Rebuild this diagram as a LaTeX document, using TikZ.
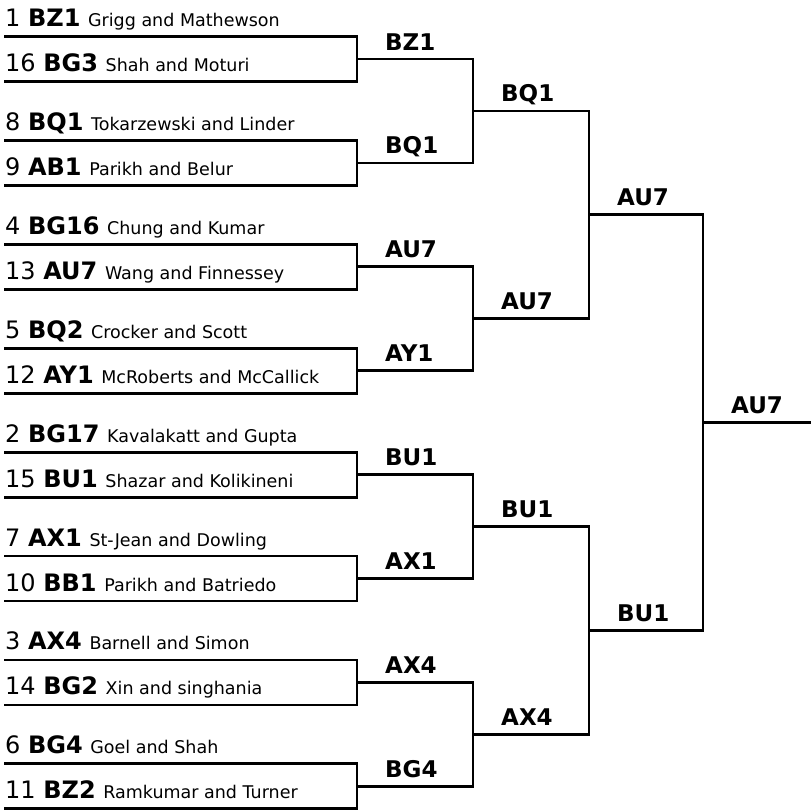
\documentclass[tikz,border=0pt]{standalone}
\usepackage{fontspec}
\setmainfont{DejaVu Sans}
\usepackage{tikz}
\usetikzlibrary{calc,positioning}

\newcommand{\codefont}{\fontsize{24}{28}\selectfont}
\newcommand{\namefont}{\fontsize{17.5}{21}\selectfont}
\newcommand{\winfont}{\fontsize{23}{27}\selectfont}

\tikzset{
  bracket/.style={line width=2.8pt, line cap=rect},
  seed/.style={anchor=base west, inner sep=0pt, yshift=10pt, font=\codefont},
  winner/.style={anchor=base west, inner sep=0pt, xshift=28pt, yshift=9pt, font=\winfont\bfseries}
}

\begin{document}
\begin{tikzpicture}[x=1pt, y=-1pt]
\useasboundingbox (0,0) rectangle (811,809);

% first round
\foreach \s/\c/\n [count=\i] in {
  1/BZ1/Grigg and Mathewson, 16/BG3/Shah and Moturi,
  8/BQ1/Tokarzewski and Linder, 9/AB1/Parikh and Belur,
  4/BG16/Chung and Kumar, 13/AU7/Wang and Finnessey,
  5/BQ2/Crocker and Scott, 12/AY1/McRoberts and McCallick,
  2/BG17/Kavalakatt and Gupta, 15/BU1/Shazar and Kolikineni,
  7/AX1/St-Jean and Dowling, 10/BB1/Parikh and Batriedo,
  3/AX4/Barnell and Simon, 14/BG2/Xin and singhania,
  6/BG4/Goel and Shah, 11/BZ2/Ramkumar and Turner} {
  \pgfmathsetmacro\yy{36.5 + 103.9*floor((\i-1)/2) + 45*mod(\i-1,2)}
  \coordinate (L1-\i-s) at (5,\yy);
  \coordinate (L1-\i-e) at (357,\yy);
  \draw [bracket] (L1-\i-s) -- (L1-\i-e);
  \node [seed] (t\i) at (L1-\i-s) {\s\ \textbf{\c} {\namefont\n}};
}

% later rounds
\foreach \j/\m/\len in {2/8/116, 3/4/116, 4/2/114, 5/1/110} {
  \pgfmathtruncatemacro\p{\j-1}
  \foreach \k in {1,...,\m} {
    \pgfmathtruncatemacro\a{2*\k-1}
    \pgfmathtruncatemacro\b{2*\k}
    \coordinate (L\j-\k-s) at ($(L\p-\a-e)!0.5!(L\p-\b-e)$);
    \coordinate (L\j-\k-e) at ($(L\j-\k-s)+(\len,0)$);
    \draw [bracket] (L\p-\a-e) -- (L\p-\b-e);
    \draw [bracket] (L\j-\k-s) -- (L\j-\k-e);
  }
}

% winners
\foreach \j/\k/\w in {2/1/BZ1, 2/2/BQ1, 2/3/AU7, 2/4/AY1, 2/5/BU1, 2/6/AX1, 2/7/AX4, 2/8/BG4,
  3/1/BQ1, 3/2/AU7, 3/3/BU1, 3/4/AX4, 4/1/AU7, 4/2/BU1, 5/1/AU7}
  \node [winner] (w\j-\k) at (L\j-\k-s) {\w};
\end{tikzpicture}
\end{document}
